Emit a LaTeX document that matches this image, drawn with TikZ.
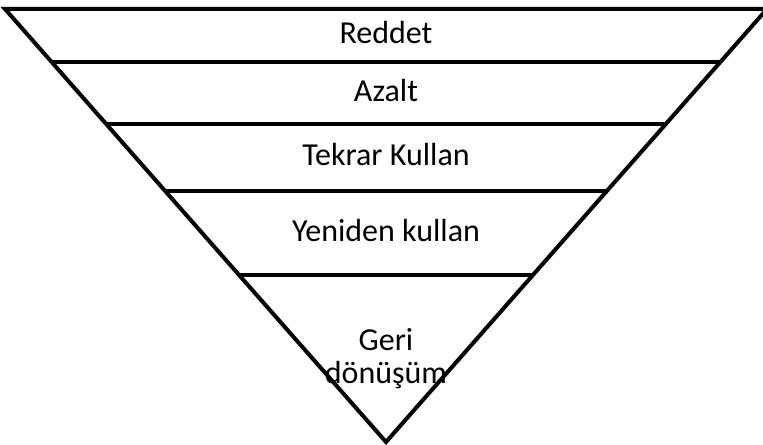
\documentclass[tikz,border=0pt]{standalone}
\usepackage{fontspec}
\setmainfont{Carlito}
\usetikzlibrary{calc,positioning}

\begin{document}
\begin{tikzpicture}[x=0.75pt,y=-0.75pt]

    \tikzstyle{edge}=[draw=black,line width=3pt,line join=miter]
    \tikzstyle{level}=[font=\fontsize{24}{27}\selectfont,anchor=base,inner sep=0pt,align=center]

    \useasboundingbox (0,0) rectangle (763,445);

    \coordinate (top_left) at (5,9);
    \coordinate (top_right) at (767,9);
    \coordinate (apex) at (386,442);

\draw[edge] (top_left) -- (top_right) -- (apex) -- cycle;

% dividing lines of the funnel
\foreach \t in {0.1224,0.2656,0.4203,0.6143}
    \draw[edge] ($(top_left)!\t!(apex)$) -- ($(top_right)!\t!(apex)$);

\node (reddet) [level] at (386,44) {Reddet};
\node (azalt) [level] at (386,102) {Azalt};
\node (tekrar) [level] at (386,166) {Tekrar Kullan};
\node (yeniden) [level] at (386,242) {Yeniden kullan};
\node (geri) [level] at (386,350) {Geri};
\node (donusum) [level] at (386,383) {dönüşüm};

\end{tikzpicture}
\end{document}
